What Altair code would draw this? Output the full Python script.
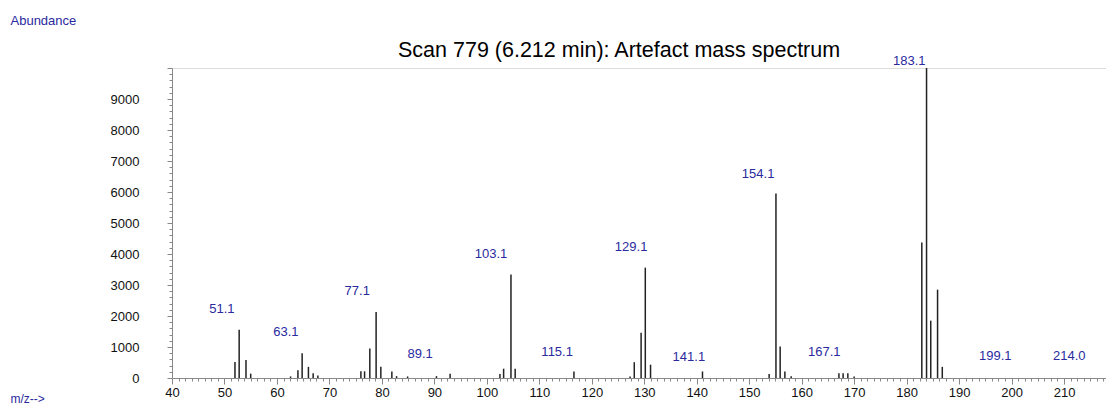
import altair as alt
import pandas as pd

# Peaks (m/z position on the drawn axis, abundance)
mz = [52.0, 52.8, 54.1, 55.0,
      62.6, 64.0, 64.8, 66.0, 66.9, 67.8,
      76.0, 76.7, 77.7, 78.9, 79.8, 81.9, 82.8, 84.9, 90.4, 93.0,
      102.5, 103.2, 104.6, 105.4, 116.6,
      127.3, 128.1, 129.4, 130.2, 131.2, 141.1,
      153.8, 155.1, 155.9, 156.8, 158.0,
      167.1, 167.9, 168.8, 170.0,
      182.9, 183.8, 184.6, 185.9, 186.8]
abundance = [520, 1560, 580, 140,
             50, 250, 800, 360, 150, 80,
             215, 215, 950, 2130, 360, 210, 60, 50, 60, 140,
             130, 300, 3340, 300, 210,
             50, 510, 1460, 3560, 430, 210,
             130, 5950, 1020, 210, 60,
             150, 150, 150, 50,
             4370, 10000, 1850, 2850, 360]

# Peak annotations
label_text = ["51.1", "63.1", "77.1", "89.1", "103.1", "115.1", "129.1",
              "141.1", "154.1", "167.1", "183.1", "199.1", "214.0"]
label_mz = [49.5, 61.7, 75.3, 87.3, 100.8, 113.4, 127.5,
            138.5, 151.7, 164.3, 180.5, 196.9, 211.0]
label_abund = [2220, 1480, 2800, 770, 3990, 840, 4240,
               680, 6590, 840, 10220, 710, 710]

x_tick_values = [40 + 1.25 * i for i in range(143)]
y_tick_values = [200 * i for i in range(51)]

peaks = pd.DataFrame({"mz": mz, "abundance": abundance})
labels = pd.DataFrame({"text": label_text, "mz": label_mz, "abundance": label_abund})

BLUE = "#2a2a9e"
FONT = "Liberation Sans"

x_scale = alt.Scale(domain=[40, 218], nice=False, zero=False)
y_scale = alt.Scale(domain=[0, 10000], nice=False)

x_axis = alt.Axis(
    values=x_tick_values,
    tickCount=400,
    labelExpr="datum.value % 10 === 0 && datum.value <= 210 ? format(datum.value, 'd') : ''",
    tickSize={"condition": {"test": "datum.value % 10 === 0", "value": 6}, "value": 3},
    labelPadding=2,
    labelOverlap=False,
    labelFlush=False,
    labelFont=FONT,
    labelFontSize=13,
    labelColor="#111111",
    grid=False,
    title="m/z-->",
    titleColor=BLUE,
    titleFont=FONT,
    titleFontSize=12,
    titleFontWeight="normal",
    titleAnchor="start",
    titleAlign="left",
    titleBaseline="middle",
    titleX=-162,
    titleY=20,
)
y_axis = alt.Axis(
    values=y_tick_values,
    tickCount=200,
    labelExpr="datum.value % 1000 === 0 && datum.value < 10000 ? format(datum.value, 'd') : ''",
    tickSize={"condition": {"test": "datum.value % 1000 === 0", "value": 5}, "value": 3},
    labelPadding=28,
    labelOverlap=False,
    labelFlush=False,
    labelFont=FONT,
    labelFontSize=13,
    labelColor="#111111",
    grid=False,
    title="Abundance",
    titleColor=BLUE,
    titleFont=FONT,
    titleFontSize=13,
    titleFontWeight="normal",
    titleAngle=0,
    titleAlign="left",
    titleBaseline="middle",
    titleX=-162,
    titleY=-48,
)

bars = alt.Chart(peaks).mark_rule(color="#222222", strokeWidth=1.5).encode(
    x=alt.X("mz:Q", scale=x_scale, axis=x_axis),
    y=alt.Y("abundance:Q", scale=y_scale, axis=y_axis),
    y2=alt.datum(0),
)

texts = alt.Chart(labels).mark_text(
    color=BLUE, font=FONT, fontSize=13, align="center", baseline="middle"
).encode(
    x=alt.X("mz:Q", scale=x_scale),
    y=alt.Y("abundance:Q", scale=y_scale),
    text="text:N",
)

chart = alt.layer(bars, texts).properties(
    width=934,
    height=310,
    title=alt.TitleParams(
        "Scan 779 (6.212 min): Artefact mass spectrum",
        anchor="start",
        frame="group",
        dx=226,
        dy=75,
        offset=11,
        baseline="alphabetic",
        font=FONT,
        fontSize=21.5,
        fontWeight="normal",
        color="#000000",
    ),
    autosize=alt.AutoSizeParams(type="none"),
    padding={"left": 172, "top": 68, "right": 0, "bottom": 29},
).configure_view(stroke=None).configure_axis(
    domainColor="#333333",
    tickColor="#333333",
    domainWidth=1,
    tickWidth=1,
).configure(background="white")

chart.save("out.html", embed_options={"renderer": "svg", "actions": False})
